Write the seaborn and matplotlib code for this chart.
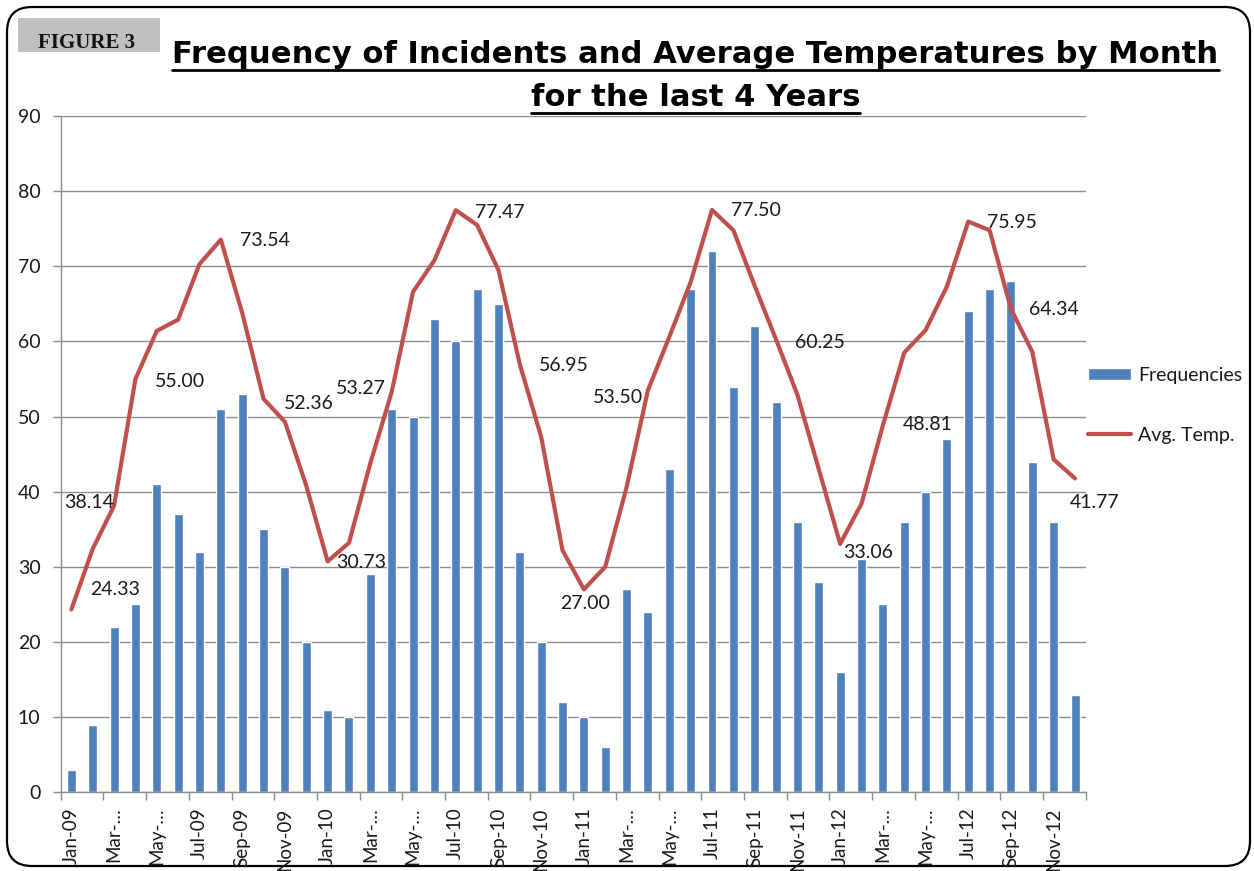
import numpy as np
import pandas as pd
import matplotlib
matplotlib.use("Agg")
import matplotlib.pyplot as plt
import seaborn as sns
from matplotlib.patches import FancyBboxPatch, Rectangle
from matplotlib.lines import Line2D
from matplotlib.transforms import IdentityTransform

# ---------------- data ----------------
months = [f"{m}-{y}" for y in ["09", "10", "11", "12"]
          for m in ["Jan", "Feb", "Mar", "Apr", "May", "Jun",
                    "Jul", "Aug", "Sep", "Oct", "Nov", "Dec"]]

frequencies = [3, 9, 22, 25, 41, 37, 32, 51, 53, 35, 30, 20,
               11, 10, 29, 51, 50, 63, 60, 67, 65, 32, 20, 12,
               10, 6, 27, 24, 43, 67, 72, 54, 62, 52, 36, 28,
               16, 31, 25, 36, 40, 47, 64, 67, 68, 44, 36, 13]

avg_temp = [24.33, 32.4, 38.14, 55.00, 61.4, 62.9, 70.3, 73.54, 63.8, 52.36, 49.3, 40.8,
            30.73, 33.2, 43.8, 53.27, 66.6, 70.8, 77.47, 75.5, 69.5, 56.95, 47.3, 32.2,
            27.00, 30.0, 40.6, 53.50, 60.6, 67.9, 77.50, 74.8, 67.4, 60.25, 52.9, 43.0,
            33.06, 38.4, 48.81, 58.5, 61.5, 67.3, 75.95, 74.8, 64.34, 58.6, 44.3, 41.77]

# months whose temperature carries a data label
label_idx = [0, 2, 3, 7, 9, 12, 15, 18, 21, 24, 27, 30, 33, 36, 38, 42, 44, 47]

# x tick labels (every second month, as shown, truncated ones kept)
tick_labels = ["Jan-09", "Mar-…", "May-…", "Jul-09", "Sep-09", "Nov-09",
               "Jan-10", "Mar-…", "May-…", "Jul-10", "Sep-10", "Nov-10",
               "Jan-11", "Mar-…", "May-…", "Jul-11", "Sep-11", "Nov-11",
               "Jan-12", "Mar-…", "May-…", "Jul-12", "Sep-12", "Nov-12"]

title_line1 = "Frequency of Incidents and Average Temperatures by Month"
title_line2 = "for the last 4 Years"

# ---------------- style ----------------
sns.set_style("white")
plt.rcParams["font.family"] = ["Lato", "DejaVu Sans"]

BAR = "#4F81BD"
LINE = "#C0504D"
GRID = "#8C8C8C"
TXT = "#1A1A1A"

W, H = 1254, 871
fig = plt.figure(figsize=(W / 100, H / 100), dpi=100)
fig.patch.set_facecolor("white")

ax_left, ax_right, ax_top, ax_bot = 60.7, 1085.7, 116, 792.3
ax = fig.add_axes([ax_left / W, 1 - ax_bot / H,
                   (ax_right - ax_left) / W, (ax_bot - ax_top) / H])

df = pd.DataFrame({"Month": months, "Frequencies": frequencies, "Avg. Temp.": avg_temp})
df["pos"] = np.arange(len(df))

sns.barplot(data=df, x="Month", y="Frequencies", color=BAR, saturation=1,
            width=0.42, ax=ax, label="Frequencies", zorder=2)
sns.lineplot(data=df, x="pos", y="Avg. Temp.", color=LINE, linewidth=3.0,
             ax=ax, label="Avg. Temp.", zorder=3)

ax.set_xlim(-0.5, len(months) - 0.5)
ax.set_ylim(0, 90)
ax.set_yticks(np.arange(0, 91, 10))
ax.set_xlabel("")
ax.set_ylabel("")

# gridlines
ax.yaxis.grid(True, color=GRID, linewidth=1.0)
ax.xaxis.grid(False)
ax.set_axisbelow(True)

for s in ["top", "right"]:
    ax.spines[s].set_visible(False)
for s in ["left", "bottom"]:
    ax.spines[s].set_color(GRID)
    ax.spines[s].set_linewidth(1.0)

# y ticks
ax.tick_params(axis="y", which="major", left=True, length=6, width=1.0,
               color=GRID, pad=8.5, labelsize=14, labelcolor=TXT)

# x ticks: major at centres (labels only), minor at boundaries (marks only)
ax.set_xticks(np.arange(0, len(months), 2))
ax.set_xticklabels(tick_labels, rotation=90, fontsize=13.5, color=TXT)
ax.set_xticks(np.arange(-0.5, len(months), 2), minor=True)
ax.tick_params(axis="x", which="major", bottom=True, length=0, pad=11)
ax.tick_params(axis="x", which="minor", bottom=True, length=6, width=1.0, color=GRID)
for lab in ax.get_xticklabels():
    lab.set_verticalalignment("top")

# data labels
offsets = {0: (44, 20), 2: (-25, 3), 3: (45, -2), 7: (44, -1), 9: (45, -5),
           12: (33, -1), 15: (-31, 4), 18: (44, -2), 21: (44, -1), 24: (1, -14),
           27: (-30, -7), 30: (44, -1), 33: (44, -3), 36: (28, -9), 38: (45, 1),
           42: (44, -1), 44: (43, -1), 47: (20, -24)}
for i in label_idx:
    dx, dy = offsets[i]
    ax.annotate(f"{avg_temp[i]:.2f}", xy=(i, avg_temp[i]), xytext=(dx, dy),
                textcoords="offset pixels", ha="center", va="center",
                fontsize=14, color=TXT, zorder=4)

# legend (bars first)
handles, labels = ax.get_legend_handles_labels()
order = [labels.index("Frequencies"), labels.index("Avg. Temp.")]
leg = ax.legend([handles[k] for k in order], [labels[k] for k in order],
                loc="center left", bbox_to_anchor=(1.0, 0.572), frameon=False,
                fontsize=14, labelspacing=2.2, handlelength=2.25, handleheight=0.6,
                handletextpad=0.35, borderpad=0.1, borderaxespad=0.0)
for t in leg.get_texts():
    t.set_color(TXT)

# outer rounded border
border = FancyBboxPatch((0.07, 0.05), 12.43, 8.59,
                        boxstyle="round,pad=0,rounding_size=0.25",
                        transform=fig.dpi_scale_trans, fill=False,
                        edgecolor="black", linewidth=1.6, zorder=0)
fig.add_artist(border)

# FIGURE 3 box
fig.add_artist(Rectangle((18 / W, 1 - 52 / H), 142 / W, 34 / H,
                         transform=fig.transFigure, facecolor="#C0C0C0",
                         edgecolor="none", zorder=1))
fig.text(86.5 / W, 1 - 43 / H, "FIGURE 3", ha="center", va="center",
         fontsize=15, fontweight="bold", family=["Liberation Serif", "DejaVu Serif"],
         color="#111111", zorder=2)

# title lines with underline
fig.canvas.draw()
renderer = fig.canvas.get_renderer()

fam_title = ["DejaVu Sans"]
t1 = fig.text(695.5 / W, 1 - 63 / H, title_line1, ha="center", va="baseline",
              fontsize=20, fontweight="bold", family=fam_title, color="black")
w1 = t1.get_window_extent(renderer).width
t1.set_fontsize(20 * 1043 / w1)
bb1 = t1.get_window_extent(renderer)
fig.add_artist(Line2D([bb1.x0, bb1.x1], [H - 70, H - 70], transform=IdentityTransform(),
                      color="black", linewidth=2.0))

t2 = fig.text(695.5 / W, 1 - 106 / H, title_line2, ha="center", va="baseline",
              fontsize=t1.get_fontsize(), fontweight="bold", family=fam_title, color="black")
bb2 = t2.get_window_extent(renderer)
fig.add_artist(Line2D([bb2.x0, bb2.x1], [H - 113, H - 113], transform=IdentityTransform(),
                      color="black", linewidth=2.0))

fig.savefig("out.png", dpi=100, facecolor="white")
